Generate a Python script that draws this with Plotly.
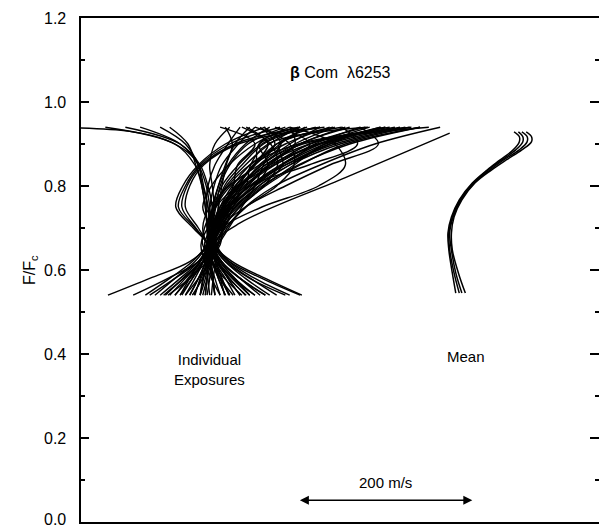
import plotly.graph_objects as go

# Flux levels (F/Fc) at which individual bisectors were read
F_LEVELS = [0.54, 0.58, 0.62, 0.66, 0.70, 0.75, 0.80, 0.85, 0.90, 0.94]

# Individual exposure bisectors: velocity (m/s) at each F level
individual = [
    [79, 108, 135, 148, 158, 174, 197, 235, 286, 367],
    [102, 120, 137, 151, 162, 183, 212, 252, 304, 390],
    [125, 135, 144, 153, 166, 189, 223, 275, 338, 413],
    [171, 162, 154, 151, 154, 169, 194, 229, 275, 332],
    [206, 183, 162, 152, 153, 162, 183, 212, 252, 304],
    [137, 143, 146, 148, 151, 160, 181, 208, 246, 292],
    [108, 125, 140, 151, 160, 177, 204, 240, 286, 344],
    [183, 169, 158, 152, 156, 171, 200, 240, 298, 378],
    [252, 208, 171, 154, 148, 154, 169, 194, 235, 286],
    [91, 114, 135, 147, 153, 164, 183, 208, 240, 275],
    [154, 151, 148, 148, 152, 162, 177, 200, 229, 258],
    [120, 131, 141, 150, 158, 171, 192, 217, 252, 309],
    [166, 158, 151, 150, 155, 169, 190, 215, 246, 240],
    [194, 174, 156, 148, 146, 153, 167, 189, 217, 252],
    [131, 137, 143, 148, 155, 167, 185, 212, 263, 355],
    [148, 146, 145, 147, 153, 166, 189, 223, 269, 321],
    [217, 189, 166, 153, 151, 160, 181, 217, 275, 361],
    [97, 117, 137, 148, 158, 174, 200, 231, 263, 223],
    [143, 145, 147, 150, 152, 160, 174, 194, 223, 206],
    [116, 128, 140, 148, 159, 178, 208, 250, 309, 390],
    [189, 171, 156, 150, 152, 164, 187, 220, 263, 327],
    [31, 79, 125, 147, 155, 169, 194, 231, 281, 350],
    [254, 212, 174, 153, 153, 167, 194, 235, 292, 373],
    [85, 108, 131, 145, 148, 146, 140, 131, 108, 28],
    [114, 125, 137, 146, 151, 151, 146, 137, 114, 51],
    [137, 140, 144, 147, 150, 148, 144, 135, 114, 68],
    [74, 102, 128, 144, 148, 146, 141, 135, 120, 91],
    [171, 160, 151, 146, 145, 143, 139, 132, 123, 102],
    [154, 152, 150, 148, 150, 152, 158, 166, 177, 194],
    [177, 166, 154, 150, 146, 144, 146, 154, 169, 183],
    [125, 135, 143, 148, 153, 158, 162, 167, 174, 166],
    [194, 177, 160, 151, 148, 151, 158, 169, 189, 217],
    [143, 145, 146, 148, 151, 155, 160, 171, 192, 235],
    [212, 183, 160, 150, 147, 148, 153, 162, 181, 200],
    [108, 123, 137, 146, 151, 153, 151, 148, 154, 171],
    [235, 194, 166, 152, 150, 153, 162, 181, 208, 252],
    [137, 141, 145, 146, 131, 112, 120, 137, 171, 229],
    [154, 151, 148, 146, 129, 109, 117, 135, 166, 212],
    [114, 128, 140, 145, 132, 116, 122, 139, 177, 252],
    [166, 158, 151, 146, 135, 120, 125, 141, 181, 275],
    [183, 169, 158, 151, 162, 208, 273, 304, 292, 240],
    [200, 177, 160, 152, 160, 189, 235, 286, 342, 321],
    [160, 150, 142, 138, 146, 170, 200, 215, 205, 250],
    [140, 145, 150, 156, 165, 175, 185, 205, 230, 210],
    [190, 170, 155, 145, 140, 148, 170, 200, 205, 280],
    [120, 135, 148, 158, 170, 185, 200, 210, 225, 300],
    [225, 195, 168, 155, 158, 172, 190, 195, 215, 330],
    [100, 125, 145, 160, 162, 158, 165, 185, 210, 260],
    [175, 160, 150, 142, 150, 165, 175, 180, 200, 160],
    [145, 148, 150, 152, 160, 180, 210, 245, 280, 345],
    [60, 100, 135, 152, 158, 165, 180, 200, 225, 290],
    [200, 175, 158, 150, 148, 155, 172, 205, 255, 400],
    [130, 138, 146, 155, 150, 140, 150, 170, 200, 240],
    [165, 160, 152, 140, 142, 155, 180, 222, 272, 350],
    [150, 152, 155, 158, 168, 190, 225, 245, 240, 200],
    [185, 165, 150, 144, 152, 175, 205, 232, 228, 270],
    [128, 140, 150, 157, 163, 172, 182, 198, 250, 380],
    [240, 200, 170, 156, 155, 163, 178, 198, 215, 190],
    [95, 118, 140, 153, 164, 182, 210, 226, 218, 185],
    [170, 162, 156, 153, 157, 170, 195, 262, 318, 300],
]

# Bisectors with their own flux sampling
special_F = [
    [0.54, 0.58, 0.62, 0.66, 0.70, 0.75, 0.80, 0.85, 0.88, 0.91, 0.93, 0.938],
    [0.54, 0.58, 0.62, 0.66, 0.712, 0.82, 0.926],
]
special_v = [
    [160, 154, 148, 146, 145, 143, 139, 135, 123, 97, 56, 0],
    [212, 183, 162, 152, 183, 304, 424],
]

# Mean bisectors
MEAN_F = [0.545, 0.593, 0.648, 0.688, 0.726, 0.767, 0.807, 0.838, 0.862, 0.886, 0.905, 0.918, 0.929]
mean_v = [
    [431, 427, 423, 422, 426, 435, 450, 467, 482, 497, 504, 504, 498],
    [435, 429, 424, 423, 427, 436, 451, 468, 484, 500, 508, 508, 503],
    [438, 431, 426, 424, 428, 437, 452, 470, 486, 504, 513, 513, 507],
    [442, 434, 427, 426, 429, 438, 453, 472, 489, 507, 518, 518, 512],
]

Y_TICKS = [0.0, 0.2, 0.4, 0.6, 0.8, 1.0, 1.2]
Y_TICK_TEXT = ["0.0", "0.2", "0.4", "0.6", "0.8", "1.0", "1.2"]

FONT = "Liberation Sans"

fig = go.Figure()
line = dict(color="black", width=1.4, shape="spline", smoothing=1.0)
for v in individual:
    fig.add_trace(go.Scatter(x=v, y=F_LEVELS, mode="lines", line=line, hoverinfo="skip"))
for f, v in zip(special_F, special_v):
    fig.add_trace(go.Scatter(x=v, y=f, mode="lines", line=line, hoverinfo="skip"))
for v in mean_v:
    fig.add_trace(go.Scatter(x=v, y=MEAN_F, mode="lines",
                             line=dict(color="black", width=1.5, shape="spline", smoothing=1.0),
                             hoverinfo="skip"))
# invisible trace to activate right axis
fig.add_trace(go.Scatter(x=[0], y=[0], yaxis="y2", mode="markers",
                         marker=dict(opacity=0), hoverinfo="skip"))

XMAX = 595.7
fig.update_layout(
    width=599, height=528,
    margin=dict(l=81, r=0, t=18, b=6),
    paper_bgcolor="white", plot_bgcolor="white",
    showlegend=False,
    font=dict(family=FONT, color="black", size=16),
    xaxis=dict(range=[0, XMAX], showgrid=False, zeroline=False, showticklabels=False,
               ticks="", showline=True, linecolor="black", linewidth=2, mirror=True),
    yaxis=dict(range=[0, 1.2], showgrid=False, zeroline=False, showticklabels=False,
               tickvals=Y_TICKS, ticks="inside", ticklen=8,
               tickwidth=1.5, tickcolor="black", showline=True, linecolor="black",
               linewidth=2,
               minor=dict(dtick=0.1, ticks="inside", ticklen=4, tickwidth=1.5, tickcolor="black")),
    yaxis2=dict(range=[0, 1.2], overlaying="y", side="right", showgrid=False,
                zeroline=False, showticklabels=False, showline=False,
                tickvals=Y_TICKS, ticks="inside", ticklen=9, tickwidth=1.5, tickcolor="black",
                minor=dict(dtick=0.1, ticks="inside", ticklen=4, tickwidth=1.5, tickcolor="black")),
)

anns = []
for val, txt in zip(Y_TICKS, Y_TICK_TEXT):
    anns.append(dict(x=-13 / 518, y=val, xref="paper", yref="y", text=txt,
                     xanchor="right", yanchor="middle", showarrow=False,
                     yshift=3 if val == 0.0 else 0,
                     font=dict(size=16)))
anns += [
    dict(x=-51 / 518, y=0.6, xref="paper", yref="y", text="F/F<sub>c</sub>", textangle=-90,
         xanchor="center", yanchor="middle", showarrow=False, font=dict(size=16)),
    dict(x=298, y=1.071, xref="x", yref="y", text="<b>β</b> Com  λ6253",
         xanchor="center", showarrow=False, font=dict(size=16)),
    dict(x=148, y=0.364, xref="x", yref="y", text="Individual<br>Exposures",
         xanchor="center", showarrow=False, font=dict(size=15)),
    dict(x=443, y=0.395, xref="x", yref="y", text="Mean",
         xanchor="center", showarrow=False, font=dict(size=15)),
    dict(x=350, y=0.093, xref="x", yref="y", text="200 m/s",
         xanchor="center", showarrow=False, font=dict(size=15)),
    dict(x=450, y=0.052, xref="x", yref="y", ax=250, ay=0.052, axref="x", ayref="y",
         text="", showarrow=True, arrowhead=2, startarrowhead=2, arrowside="end+start",
         arrowwidth=1.5, arrowsize=1.2, startarrowsize=1.2, arrowcolor="black",
         standoff=0, startstandoff=0),
]
fig.update_layout(annotations=anns)

fig.write_html("out.html")
